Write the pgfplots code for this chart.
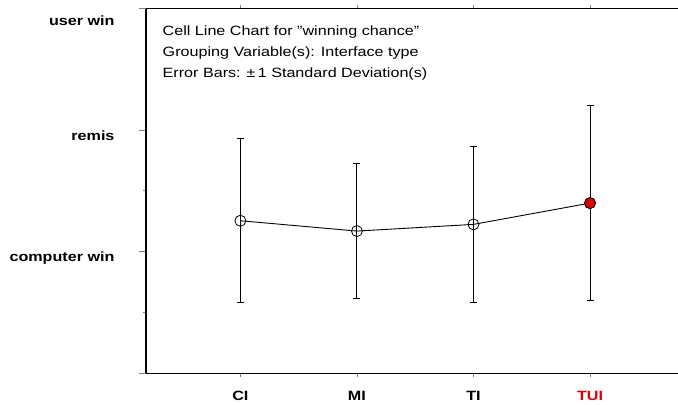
\documentclass[border=0pt]{standalone}
\usepackage{pgfplots}
\pgfplotsset{compat=1.18}
\usepackage{fontspec}
\setmainfont{Liberation Sans}[FakeStretch=1.2]
\definecolor{tuired}{RGB}{224,0,0}

\begin{document}
\begin{tikzpicture}[x=1bp,y=1bp]
\path[use as bounding box] (0,0) rectangle (678,404);
\begin{axis}[
    at={(146bp,30.7bp)}, anchor=south west,
    scale only axis, width=532bp, height=365bp,
    xmin=-0.81, xmax=3.755, ymin=0, ymax=3,
    axis x line*=box, axis y line*=left,
    axis line style={-, line width=1.2bp},
    tick align=outside,
    major tick length=7bp, minor tick length=3.5bp,
    xtick={0,1,2,3},
    xticklabels={CI,MI,TI,\textcolor{tuired}{TUI}},
    xtick style={/pgfplots/major tick length=3.5bp, line width=0.8bp},
    ytick={0,1,2},
    yticklabels={,computer win,remis},
    extra y ticks={3},
    extra y tick labels={user win},
    extra y tick style={yticklabel style={yshift=-6bp}},
    minor y tick num=1,
    ytick style={line width=0.8bp},
    tick label style={font=\fontsize{13.5}{16}\selectfont\bfseries},
    yticklabel style={yshift=-6bp, xshift=-21bp},
    xticklabel style={yshift=-7bp},
    clip=false,
]
\addplot[black, line width=0.9bp, mark=o, mark size=5.5bp,
    mark options={line width=0.8bp},
    error bars/.cd, y dir=both, y explicit,
    error bar style={line width=0.9bp},
    error mark options={rotate=90, mark size=3.5bp, line width=0.9bp}]
  coordinates {
    (0,1.254) +- (0,0.675)
    (1,1.169) +- (0,0.552)
    (2,1.224) +- (0,0.641)
    (3,1.399) +- (0,0.804)
  };
\addplot[only marks, mark=*, mark size=5.5bp,
    mark options={fill=tuired, draw=black, line width=0.8bp}]
  coordinates {(3,1.399)};
\node[anchor=north west, align=left, inner sep=0pt,
      font=\fontsize{13.5}{21}\selectfont]
  at (axis description cs:0.031,0.9515)
  {Cell Line Chart for \symbol{34}winning chance\symbol{34}\\
   Grouping Variable(s): Interface type\\
   Error Bars: ±\,1 Standard Deviation(s)};
\end{axis}
\end{tikzpicture}
\end{document}
